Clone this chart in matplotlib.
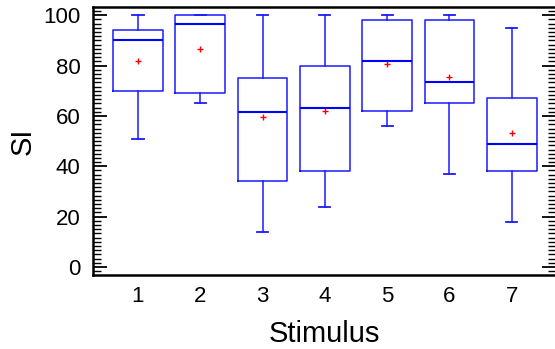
import matplotlib
matplotlib.use("Agg")
import matplotlib.pyplot as plt
from matplotlib.ticker import MultipleLocator, FixedLocator

plt.rcParams['font.family'] = ['Liberation Sans', 'DejaVu Sans']

stimuli = [1, 2, 3, 4, 5, 6, 7]
whisker_low = [51, 65, 14, 24, 56, 37, 18]
q1 = [70, 69, 34, 38, 62, 65, 38]
median = [90, 96.6, 61.5, 63, 82, 73.5, 49]
q3 = [94, 100, 75, 80, 98, 98, 67]
whisker_high = [100, 100, 100, 100, 100, 100, 95]
mean = [82, 86.5, 59.6, 62, 80.8, 75.3, 53.4]

stats = []
for s, lo, a, m, b, hi, mu in zip(stimuli, whisker_low, q1, median, q3, whisker_high, mean):
    stats.append(dict(label=str(s), whislo=lo, q1=a, med=m, q3=b, whishi=hi, mean=mu, fliers=[]))

fig = plt.figure(figsize=(5.55, 3.49), dpi=100)
ax = fig.add_axes([93/555, (349-275)/349, (556-93)/555, (275-7)/349])

blue = '#1a1aff'
ax.bxp(stats, positions=stimuli, widths=0.8, showmeans=True, showfliers=False,
       capwidths=0.18,
       boxprops=dict(color=blue, linewidth=1.1),
       whiskerprops=dict(color=blue, linewidth=1.1),
       capprops=dict(color=blue, linewidth=1.3),
       medianprops=dict(color='#0000ff', linewidth=1.5),
       meanprops=dict(marker='+', markeredgecolor='red', markerfacecolor='red',
                      markersize=5, markeredgewidth=1.0))

ax.set_xlim(0.278, 7.71)
ax.set_ylim(-3.2, 103.3)

ax.yaxis.set_major_locator(FixedLocator([0, 20, 40, 60, 80, 100]))
ax.yaxis.set_minor_locator(MultipleLocator(10/6))
ax.tick_params(axis='y', which='major', direction='in', length=10, width=1.3,
               labelsize=16, pad=9, right=True, left=True)
ax.tick_params(axis='y', which='minor', direction='in', length=6, width=1.0,
               right=True, left=True)
ax.tick_params(axis='x', which='both', length=0, labelsize=16, pad=8)
ax.set_xticks(stimuli)
ax.set_xticklabels([str(s) for s in stimuli])

for side in ['left', 'top', 'bottom']:
    ax.spines[side].set_linewidth(1.8)
ax.spines['right'].set_visible(False)

ax.set_xlabel('Stimulus', fontsize=21, labelpad=9)
ax.set_ylabel('SI', fontsize=21, labelpad=5)

fig.savefig('out.png', dpi=100)
